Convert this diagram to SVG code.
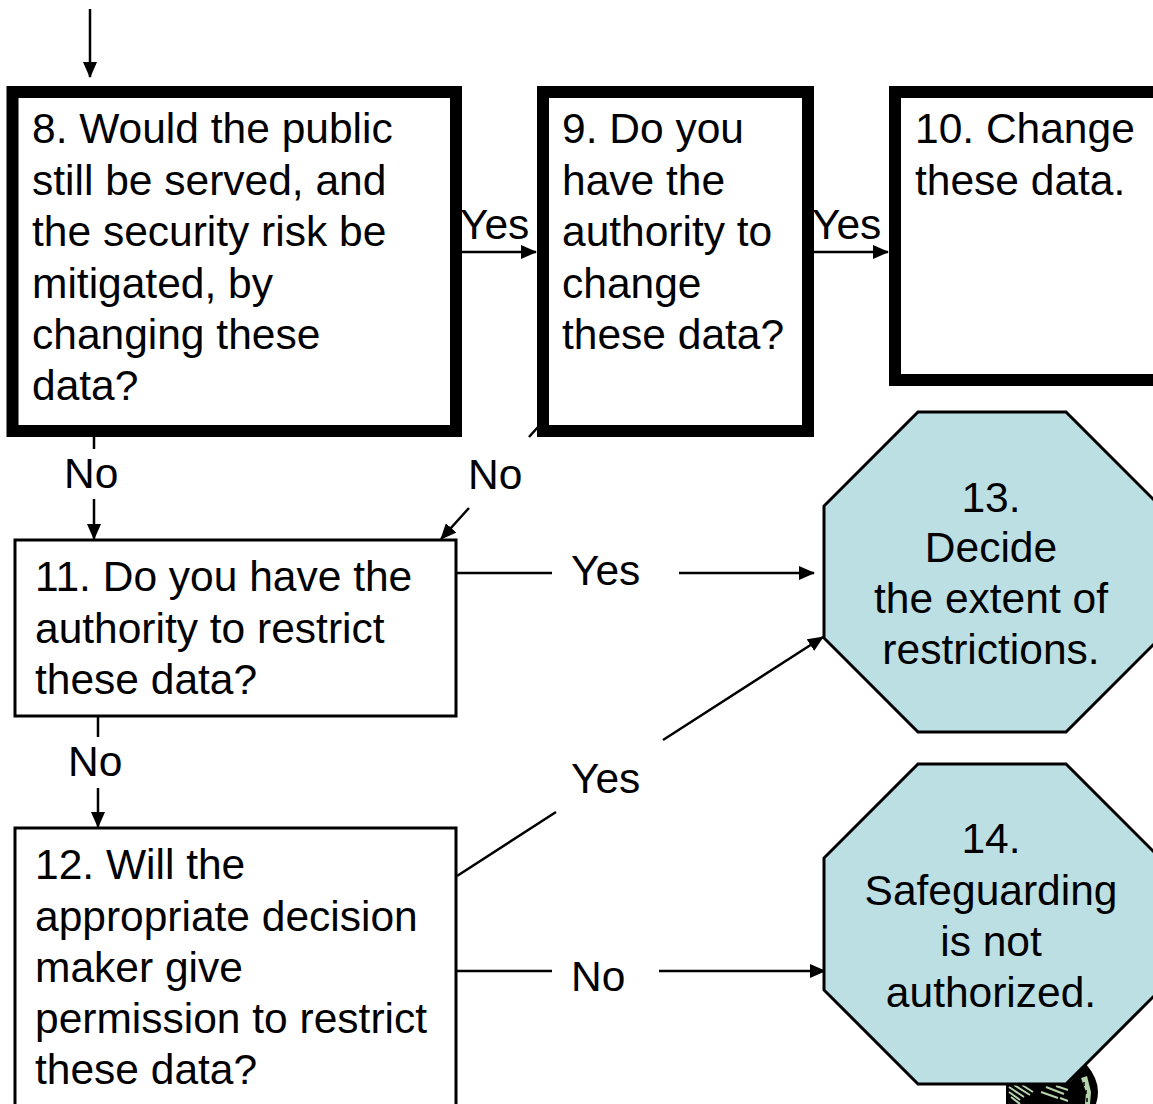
<svg xmlns="http://www.w3.org/2000/svg" width="1153" height="1104" viewBox="0 0 1153 1104">
<style>
text{font-family:"Liberation Sans",Arial,sans-serif;font-size:42.5px;fill:#000}
.m{text-anchor:middle}
.thick{fill:#fff;stroke:#000;stroke-width:12}
.thin{fill:#fff;stroke:#000;stroke-width:3}
.oct{fill:#bbdfe3;stroke:#000;stroke-width:3}
.c{fill:none;stroke:#000;stroke-width:2.5}
.h{fill:none;stroke:#b5d3ac;stroke-width:2}
</style>
<defs><marker id="a" markerUnits="userSpaceOnUse" markerWidth="16" markerHeight="14" refX="15" refY="7" orient="auto"><path d="M0 0L16 7L0 14Z" fill="#000"/></marker></defs>
<g id="coin">
<path d="M1006 1104V1082H1070L1086 1064Q1098 1078 1098 1092Q1098 1098 1096 1104Z" fill="#000"/>
<path class="h" d="M1009 1087L1024 1097M1009 1092L1020 1100M1011 1097L1020 1104M1014 1085L1030 1095M1022 1085L1033 1092M1041 1092L1058 1098M1046 1087L1064 1094M1056 1086L1068 1090M1060 1098L1068 1101"/>
<path d="M1081 1078L1087 1076L1091 1092L1090 1104H1085L1086 1092Z" fill="#b5d3ac"/>
<path d="M1084 1082V1086M1086 1090V1094M1087 1098V1102" stroke="#000" stroke-width="1.5"/>
</g>
<g id="connectors">
<path class="c" d="M90 9V77" marker-end="url(#a)"/>
<path class="c" d="M460 252H536" marker-end="url(#a)"/>
<path class="c" d="M813 252H888" marker-end="url(#a)"/>
<path class="c" d="M94 437V449M94 499V539" marker-end="url(#a)"/>
<path class="c" d="M538 427L529 437M469 508L441 539" marker-end="url(#a)"/>
<path class="c" d="M457 573H552M679 573H814" marker-end="url(#a)"/>
<path class="c" d="M98 717V737M98 788V827" marker-end="url(#a)"/>
<path class="c" d="M457 876L556 812M663 740L823 637" marker-end="url(#a)"/>
<path class="c" d="M457 971H552M659 971H825" marker-end="url(#a)"/>
</g>
<g id="node8"><rect class="thick" x="12.500" y="92" width="443.500" height="339"/>
<text x="32" y="143">8. Would the public</text><text x="32" y="195">still be served, and</text><text x="32" y="246">the security risk be</text><text x="32" y="298">mitigated, by</text><text x="32" y="349">changing these</text><text x="32" y="400">data?</text></g>
<g id="node9"><rect class="thick" x="543" y="92" width="265" height="339"/>
<text x="562" y="143">9. Do you</text><text x="562" y="195">have the</text><text x="562" y="246">authority to</text><text x="562" y="298">change</text><text x="562" y="349">these data?</text></g>
<g id="node10"><path class="thick" d="M1153 92H895V380H1153"/>
<text x="915" y="143">10. Change</text><text x="915" y="195">these data.</text></g>
<g id="node11"><rect class="thin" x="15" y="540" width="441" height="176"/>
<text x="35" y="591">11. Do you have the</text><text x="35" y="643">authority to restrict</text><text x="35" y="694">these data?</text></g>
<g id="node12"><path class="thin" d="M15 1104V828H456V1104"/>
<text x="35" y="879">12. Will the</text><text x="35" y="931">appropriate decision</text><text x="35" y="982">maker give</text><text x="35" y="1033">permission to restrict</text><text x="35" y="1084">these data?</text></g>
<g id="node13"><path class="oct" d="M918 412H1066L1160 506V638L1066 732H918L824 638V506Z"/>
<text class="m" x="991" y="512">13.</text><text class="m" x="991" y="562">Decide</text><text class="m" x="991" y="613">the extent of</text><text class="m" x="991" y="664">restrictions.</text></g>
<g id="node14"><path class="oct" d="M918 764H1066L1160 858V990L1066 1084H918L824 990V858Z"/>
<text class="m" x="991" y="853">14.</text><text class="m" x="991" y="905">Safeguarding</text><text class="m" x="991" y="956">is not</text><text class="m" x="991" y="1007">authorized.</text></g>
<g id="labels">
<text x="460" y="239">Yes</text><text x="812" y="239">Yes</text>
<text x="64" y="488">No</text><text x="468" y="489">No</text>
<text x="571" y="585">Yes</text><text x="68" y="776">No</text>
<text x="571" y="793">Yes</text><text x="571" y="991">No</text>
</g>
</svg>
